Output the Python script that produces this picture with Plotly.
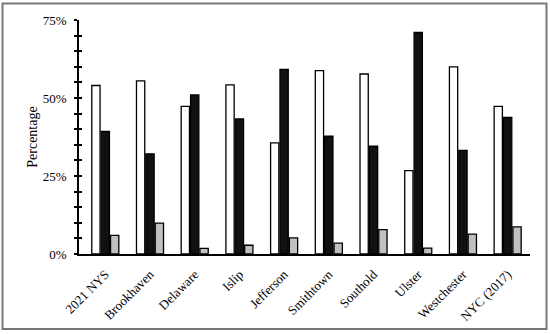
import plotly.graph_objects as go

categories = ["2021 NYS", "Brookhaven", "Delaware", "Islip", "Jefferson",
              "Smithtown", "Southold", "Ulster", "Westchester", "NYC (2017)"]
series_white = [54.0, 55.5, 47.3, 54.2, 35.6, 58.8, 57.7, 26.7, 60.0, 47.3]
series_black = [39.3, 32.1, 51.0, 43.3, 59.2, 37.8, 34.6, 71.0, 33.2, 43.8]
series_gray = [6.0, 9.9, 1.8, 2.8, 5.2, 3.5, 7.8, 1.9, 6.4, 8.7]
y_tickvals = [0, 25, 50, 75]
y_ticktext = ["0%", "25%", "50%", "75%"]

FONT = "Liberation Serif"

fig = go.Figure()
for vals, color in [(series_white, "#ffffff"), (series_black, "#111111"), (series_gray, "#c0c0c0")]:
    fig.add_trace(go.Bar(x=categories, y=vals, marker=dict(color=color, line=dict(color="#000000", width=1.3)),
                         showlegend=False))

fig.update_layout(
    width=550, height=334,
    margin=dict(l=79, r=20, t=20, b=80, autoexpand=False),
    paper_bgcolor="white", plot_bgcolor="white",
    barmode="group", bargap=0.37, bargroupgap=0.12,
    font=dict(family=FONT, size=13, color="black"),
    xaxis=dict(showline=True, linecolor="black", linewidth=1.5, ticks="", tickangle=-45,
               tickfont=dict(family=FONT, size=13), showgrid=False, automargin=False,
               ticklabelstandoff=6),
    yaxis=dict(range=[0, 75], showline=True, linecolor="black", linewidth=1.5,
               tickvals=y_tickvals, ticktext=y_ticktext, ticks="outside", ticklen=3, tickwidth=1.5,
               tickcolor="black", minor=dict(dtick=5, ticks="outside", ticklen=3, tickwidth=1.5, tickcolor="black"),
               showgrid=False, zeroline=False, ticklabelstandoff=5, automargin=False,
               title=dict(text="Percentage", font=dict(family=FONT, size=14), standoff=2)),
    yaxis2=dict(range=[0, 75], overlaying="y", side="left", showticklabels=False,
                tickvals=y_tickvals, ticks="inside", ticklen=3, tickwidth=1.5, tickcolor="black",
                minor=dict(dtick=5, ticks="inside", ticklen=3, tickwidth=1.5, tickcolor="black"),
                showgrid=False, zeroline=False, showline=False, automargin=False),
)
# invisible trace to activate yaxis2
fig.add_trace(go.Scatter(x=[categories[0]], y=[0], yaxis="y2", mode="markers",
                         marker=dict(opacity=0), showlegend=False, hoverinfo="skip"))

# outer frame
pw, ph = 550 - 79 - 20, 334 - 20 - 80
x0 = (2.5 - 79) / pw
x1 = (546.5 - 79) / pw
y1 = (334 - 80 - 3.5) / ph
y0 = (334 - 80 - 329) / ph
fig.add_shape(type="rect", xref="paper", yref="paper", x0=x0, x1=x1, y0=y0, y1=y1,
              line=dict(color="#777777", width=2), fillcolor="rgba(0,0,0,0)", layer="below")

fig.write_html("out.html", config={"displayModeBar": False},
               post_script="document.body.style.margin='0';document.body.style.overflow='hidden';")
